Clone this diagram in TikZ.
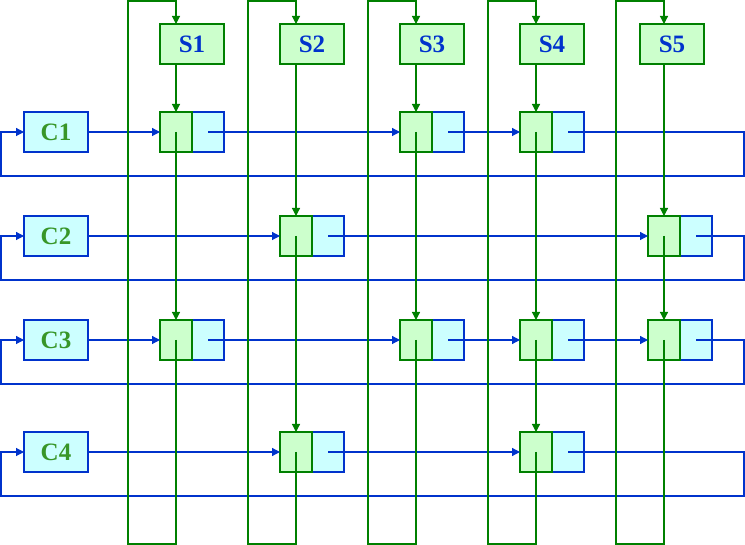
\documentclass[tikz,border=0pt]{standalone}
\usepackage{fontspec}
\setmainfont{Liberation Serif}
\usepackage{tikz}
\usetikzlibrary{arrows.meta}
\usetikzlibrary{positioning}

\definecolor{lgreen}{RGB}{0,128,0}
\definecolor{lblue}{RGB}{0,51,204}
\definecolor{fgreen}{RGB}{204,255,204}
\definecolor{fcyan}{RGB}{204,255,255}
\definecolor{tgreen}{RGB}{56,150,40}

\begin{document}
\begin{tikzpicture}
    [
    x=1pt,y=-1pt,
    head/.style={draw=lgreen,fill=fgreen,line width=1.2pt,outer sep=0pt,minimum width=64pt,minimum height=40pt,inner sep=0pt,text=lblue,font=\fontsize{25}{27}\selectfont\bfseries},
    clist/.style={draw=lblue,fill=fcyan,line width=1.2pt,outer sep=0pt,minimum width=64pt,minimum height=40pt,inner sep=0pt,text=tgreen,font=\fontsize{25}{27}\selectfont\bfseries},
    data/.style={draw=lgreen,fill=fgreen,line width=1.2pt,outer sep=0pt,minimum width=32pt,minimum height=40pt,inner sep=0pt},
    ptr/.style={draw=lblue,fill=fcyan,line width=1.2pt,outer sep=0pt,minimum width=32pt,minimum height=40pt,inner sep=0pt},
    rowl/.style={draw=lblue,line width=1.2pt,-{Triangle[length=8pt,width=8pt]}},
    coll/.style={draw=lgreen,line width=1.2pt,-{Triangle[length=8pt,width=8pt]}},
    ]
    \useasboundingbox (0,0) rectangle (745,545);
    \coordinate (top) at (1,1);
    \coordinate (bot) at (1,544);
    \coordinate (lft) at (1,1);
    \coordinate (rgt) at (744,1);

    \node (S1) at (192,44) [head] {S1};
    \node (S2) at (312,44) [head] {S2};
    \node (S3) at (432,44) [head] {S3};
    \node (S4) at (552,44) [head] {S4};
    \node (S5) at (672,44) [head] {S5};

    \node (C1) at (56,132) [clist] {C1};
    \node (C2) at (56,236) [clist] {C2};
    \node (C3) at (56,340) [clist] {C3};
    \node (C4) at (56,452) [clist] {C4};

    % row 1
    \node (p11) at (208,132) [ptr] {};
    \node (d11) [left=0pt of p11,data] {};
    \node (p13) at (448,132) [ptr] {};
    \node (d13) [left=0pt of p13,data] {};
    \node (p14) at (568,132) [ptr] {};
    \node (d14) [left=0pt of p14,data] {};
    % row 2
    \node (p22) at (328,236) [ptr] {};
    \node (d22) [left=0pt of p22,data] {};
    \node (p25) at (696,236) [ptr] {};
    \node (d25) [left=0pt of p25,data] {};
    % row 3
    \node (p31) at (208,340) [ptr] {};
    \node (d31) [left=0pt of p31,data] {};
    \node (p33) at (448,340) [ptr] {};
    \node (d33) [left=0pt of p33,data] {};
    \node (p34) at (568,340) [ptr] {};
    \node (d34) [left=0pt of p34,data] {};
    \node (p35) at (696,340) [ptr] {};
    \node (d35) [left=0pt of p35,data] {};
    % row 4
    \node (p42) at (328,452) [ptr] {};
    \node (d42) [left=0pt of p42,data] {};
    \node (p44) at (568,452) [ptr] {};
    \node (d44) [left=0pt of p44,data] {};

    % row links
    \draw [rowl] (C1) to (d11);
    \draw [rowl] (p11.center) to (d13);
    \draw [rowl] (p13.center) to (d14);
    \draw [rowl] (p14.center) -| ([yshift=-44pt]C1.center -| rgt) -| (C1.west -| lft) -- (C1.west);
    \draw [rowl] (C2) to (d22);
    \draw [rowl] (p22.center) to (d25);
    \draw [rowl] (p25.center) -| ([yshift=-44pt]C2.center -| rgt) -| (C2.west -| lft) -- (C2.west);
    \draw [rowl] (C3) to (d31);
    \draw [rowl] (p31.center) to (d33);
    \draw [rowl] (p33.center) to (d34);
    \draw [rowl] (p34.center) to (d35);
    \draw [rowl] (p35.center) -| ([yshift=-44pt]C3.center -| rgt) -| (C3.west -| lft) -- (C3.west);
    \draw [rowl] (C4) to (d42);
    \draw [rowl] (p42.center) to (d44);
    \draw [rowl] (p44.center) -| ([yshift=-44pt]C4.center -| rgt) -| (C4.west -| lft) -- (C4.west);

    % column links
    \draw [coll] (d11.north |- S1.south) to (d11.north);
    \draw [coll] (d11.center) to (d31.north);
    \draw [coll] (d31.center) |- ([xshift=-48pt]d31.center |- bot) |- (d31.center |- top) -- (d31.center |- S1.north);
    \draw [coll] (d22.north |- S2.south) to (d22.north);
    \draw [coll] (d22.center) to (d42.north);
    \draw [coll] (d42.center) |- ([xshift=-48pt]d42.center |- bot) |- (d42.center |- top) -- (d42.center |- S2.north);
    \draw [coll] (d13.north |- S3.south) to (d13.north);
    \draw [coll] (d13.center) to (d33.north);
    \draw [coll] (d33.center) |- ([xshift=-48pt]d33.center |- bot) |- (d33.center |- top) -- (d33.center |- S3.north);
    \draw [coll] (d14.north |- S4.south) to (d14.north);
    \draw [coll] (d14.center) to (d34.north);
    \draw [coll] (d34.center) to (d44.north);
    \draw [coll] (d44.center) |- ([xshift=-48pt]d44.center |- bot) |- (d44.center |- top) -- (d44.center |- S4.north);
    \draw [coll] (d25.north |- S5.south) to (d25.north);
    \draw [coll] (d25.center) to (d35.north);
    \draw [coll] (d35.center) |- ([xshift=-48pt]d35.center |- bot) |- (d35.center |- top) -- (d35.center |- S5.north);
\end{tikzpicture}
\end{document}
